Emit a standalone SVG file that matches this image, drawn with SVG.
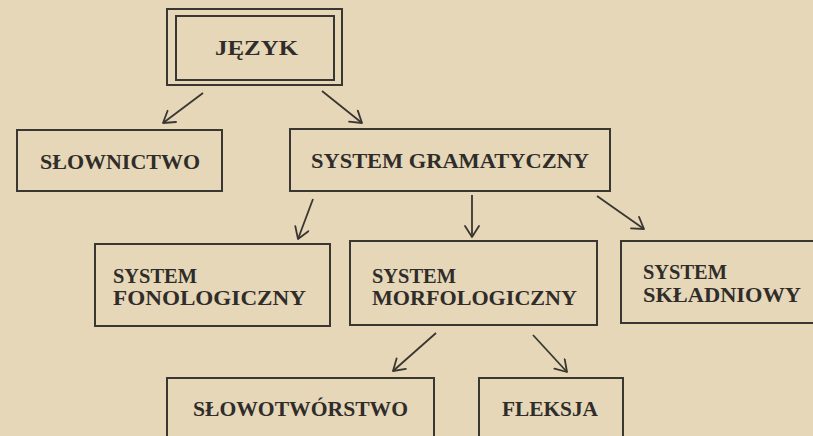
<svg xmlns="http://www.w3.org/2000/svg" width="813" height="436" viewBox="0 0 813 436">
<defs>
<marker id="arr" markerUnits="userSpaceOnUse" markerWidth="20" markerHeight="20" refX="14" refY="8" orient="auto">
<path d="M3,1 L14,8 L3,15" fill="none" stroke="#3a3632" stroke-width="1.8" stroke-linecap="round" stroke-linejoin="round"/>
</marker>
</defs>
<style>
.box{fill:none;stroke:#3a3632;stroke-width:2}
.t{font-family:"Liberation Serif","DejaVu Serif",serif;font-weight:bold;font-size:21px;fill:#2f2c2a}
.c{stroke:#3a3632;stroke-width:1.8;fill:none;marker-end:url(#arr)}
</style>
<rect width="813" height="436" fill="#e6d7b8"/>
<g id="jezyk">
<rect class="box" x="167" y="9" width="175" height="76"/>
<rect class="box" x="176" y="16" width="158" height="64"/>
<text class="t" x="215" y="55" textLength="83" lengthAdjust="spacingAndGlyphs">JĘZYK</text>
</g>
<g id="slownictwo">
<rect class="box" x="17" y="130" width="205" height="61"/>
<text class="t" x="40" y="169" textLength="160" lengthAdjust="spacingAndGlyphs">SŁOWNICTWO</text>
</g>
<g id="system-gramatyczny">
<rect class="box" x="290" y="129" width="320" height="62"/>
<text class="t" x="311" y="168" textLength="278" lengthAdjust="spacingAndGlyphs">SYSTEM GRAMATYCZNY</text>
</g>
<g id="system-fonologiczny">
<rect class="box" x="95" y="244" width="235" height="82"/>
<text class="t" x="113" y="283" textLength="84" lengthAdjust="spacingAndGlyphs">SYSTEM</text>
<text class="t" x="113" y="305" textLength="193" lengthAdjust="spacingAndGlyphs">FONOLOGICZNY</text>
</g>
<g id="system-morfologiczny">
<rect class="box" x="350" y="241" width="247" height="84"/>
<text class="t" x="372" y="283" textLength="84" lengthAdjust="spacingAndGlyphs">SYSTEM</text>
<text class="t" x="372" y="305" textLength="205" lengthAdjust="spacingAndGlyphs">MORFOLOGICZNY</text>
</g>
<g id="system-skladniowy">
<rect class="box" x="621" y="241" width="200" height="82"/>
<text class="t" x="643" y="279" textLength="84" lengthAdjust="spacingAndGlyphs">SYSTEM</text>
<text class="t" x="643" y="302" textLength="158" lengthAdjust="spacingAndGlyphs">SKŁADNIOWY</text>
</g>
<g id="slowotworstwo">
<rect class="box" x="167" y="378" width="267" height="70"/>
<text class="t" x="193" y="416" textLength="215" lengthAdjust="spacingAndGlyphs">SŁOWOTWÓRSTWO</text>
</g>
<g id="fleksja">
<rect class="box" x="479" y="378" width="144" height="70"/>
<text class="t" x="502" y="416" textLength="96" lengthAdjust="spacingAndGlyphs">FLEKSJA</text>
</g>
<g id="connectors">
<line class="c" x1="203" y1="93" x2="163" y2="123"/>
<line class="c" x1="322" y1="91" x2="362" y2="123"/>
<line class="c" x1="313" y1="199" x2="298" y2="239"/>
<line class="c" x1="472" y1="195" x2="472" y2="237"/>
<line class="c" x1="597" y1="196" x2="644" y2="229"/>
<line class="c" x1="436" y1="333" x2="393" y2="371"/>
<line class="c" x1="533" y1="335" x2="567" y2="372"/>
</g>
</svg>
